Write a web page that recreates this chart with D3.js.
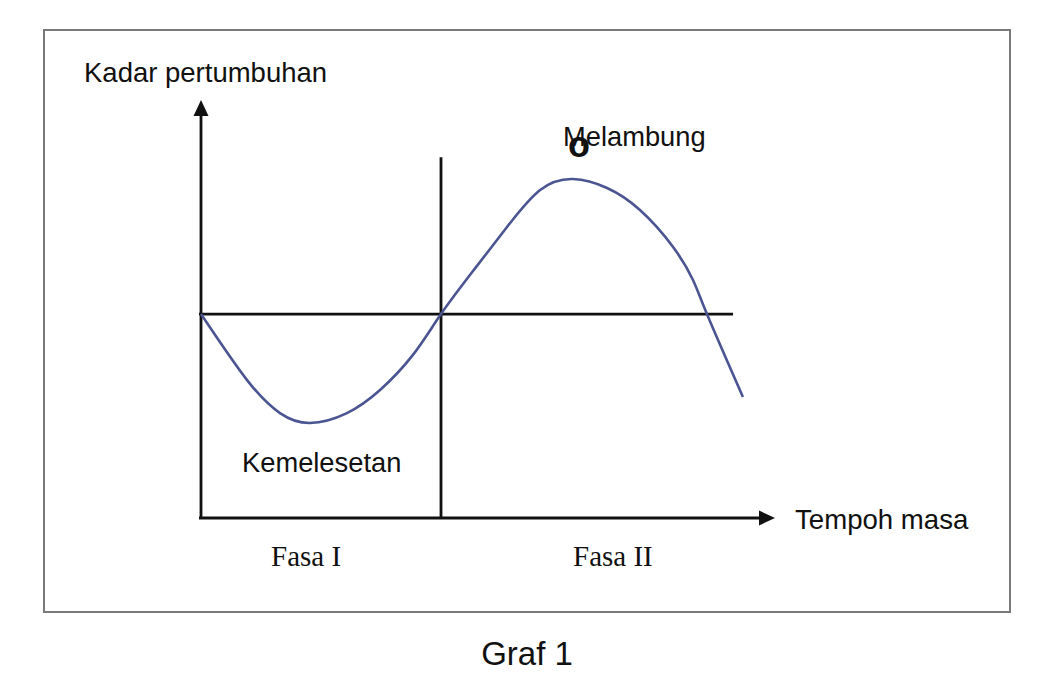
<!DOCTYPE html>
<html>
<head>
<meta charset="utf-8">
<script src="https://cdn.jsdelivr.net/npm/d3@7"></script>
<style>
  html, body { margin: 0; padding: 0; background: #fff; }
  svg { display: block; }
  .sans { font-family: "Liberation Sans", Arial, sans-serif; fill: #111; }
  .serif { font-family: "Liberation Serif", "Times New Roman", serif; fill: #111; }
</style>
</head>
<body>
<svg id="chart" width="1060" height="690"></svg>
<script>
// ---- data (time units vs growth-rate units) ----
const curveTime = [0, 1.92, 3.29, 4.54, 6.08, 7.46, 8.83, 10,
                   11.33, 12.75, 14.13, 15.5, 16.92, 18.29, 19.67, 20.5, 21.08, 22.58];
const curveRate = [0, -4.93, -7.39, -8.13, -7.39, -5.67, -3.05, 0,
                   3.2, 6.49, 9.25, 10.07, 9.4, 7.76, 5.0, 2.54, 0, -6.19];
const phaseBoundary = [10];          // time where Fasa I ends
const phaseLabels = ["Fasa I", "Fasa II"];
const axisLabels = ["Kadar pertumbuhan", "Tempoh masa"];
const regionLabels = ["Melambung", "Kemelesetan"];
const caption = "Graf 1";

const timeDomain = [0, 24];
const rateDomain = [-15.22, 15.97];
const zeroLineEnd = 22.17;
const dividerTop = 11.7;

// ---- scales ----
const x = d3.scaleLinear().domain(timeDomain).range([201, 777]);
const y = d3.scaleLinear().domain(rateDomain).range([518, 100]);

const svg = d3.select("#chart");

// frame
svg.append("rect")
  .attr("x", 44).attr("y", 30).attr("width", 966).attr("height", 582)
  .attr("fill", "none").attr("stroke", "#7a7a7a").attr("stroke-width", 2);

const axisColor = "#111";
const sw = 2.8;
const g = svg.append("g");

// y axis
g.append("line")
  .attr("x1", x(0)).attr("x2", x(0))
  .attr("y1", y(rateDomain[0]) + 1).attr("y2", y(rateDomain[1]) + 14)
  .attr("stroke", axisColor).attr("stroke-width", sw);
g.append("path")
  .attr("d", `M${x(0)},${y(rateDomain[1])} L${x(0) - 7.5},${y(rateDomain[1]) + 16} L${x(0) + 7.5},${y(rateDomain[1]) + 16} Z`)
  .attr("fill", axisColor);

// x axis
g.append("line")
  .attr("x1", x(0) - 2).attr("x2", x(timeDomain[1]) - 14)
  .attr("y1", y(rateDomain[0])).attr("y2", y(rateDomain[0]))
  .attr("stroke", axisColor).attr("stroke-width", sw);
g.append("path")
  .attr("d", `M${x(timeDomain[1]) - 2},${y(rateDomain[0])} L${x(timeDomain[1]) - 18},${y(rateDomain[0]) - 7.5} L${x(timeDomain[1]) - 18},${y(rateDomain[0]) + 7.5} Z`)
  .attr("fill", axisColor);

// zero line
g.append("line")
  .attr("x1", x(0) - 2).attr("x2", x(zeroLineEnd))
  .attr("y1", y(0)).attr("y2", y(0))
  .attr("stroke", axisColor).attr("stroke-width", sw);

// phase divider
phaseBoundary.forEach(t => {
  g.append("line")
    .attr("x1", x(t)).attr("x2", x(t))
    .attr("y1", y(dividerTop)).attr("y2", y(rateDomain[0]))
    .attr("stroke", axisColor).attr("stroke-width", sw);
});

// curve
const pts = curveTime.map((t, i) => [t, curveRate[i]]);
const line = d3.line()
  .x(d => x(d[0])).y(d => y(d[1]))
  .curve(d3.curveNatural);
g.append("path")
  .datum(pts)
  .attr("d", line)
  .attr("fill", "none")
  .attr("stroke", "#4a5592")
  .attr("stroke-width", 2.6);

// labels
svg.append("text").attr("class", "sans")
  .attr("x", 84).attr("y", 82).attr("font-size", 27.5).text(axisLabels[0]);
svg.append("text").attr("class", "sans")
  .attr("x", 795).attr("y", 529).attr("font-size", 27.6).text(axisLabels[1]);
svg.append("text").attr("class", "sans")
  .attr("x", 563).attr("y", 146).attr("font-size", 27.3).text(regionLabels[0]);
svg.append("text").attr("class", "sans")
  .attr("x", 568).attr("y", 157).attr("font-size", 36).attr("font-weight", "bold")
  .attr("fill", "#000").text("o");
svg.append("text").attr("class", "sans")
  .attr("x", 242).attr("y", 472).attr("font-size", 27.3).text(regionLabels[1]);

svg.append("text").attr("class", "serif")
  .attr("x", 271).attr("y", 566).attr("font-size", 29).text(phaseLabels[0]);
svg.append("text").attr("class", "serif")
  .attr("x", 573).attr("y", 566).attr("font-size", 29).text(phaseLabels[1]);

svg.append("text").attr("class", "sans")
  .attr("x", 527).attr("y", 665).attr("font-size", 33)
  .attr("text-anchor", "middle").attr("fill", "#000").text(caption);
</script>
</body>
</html>
